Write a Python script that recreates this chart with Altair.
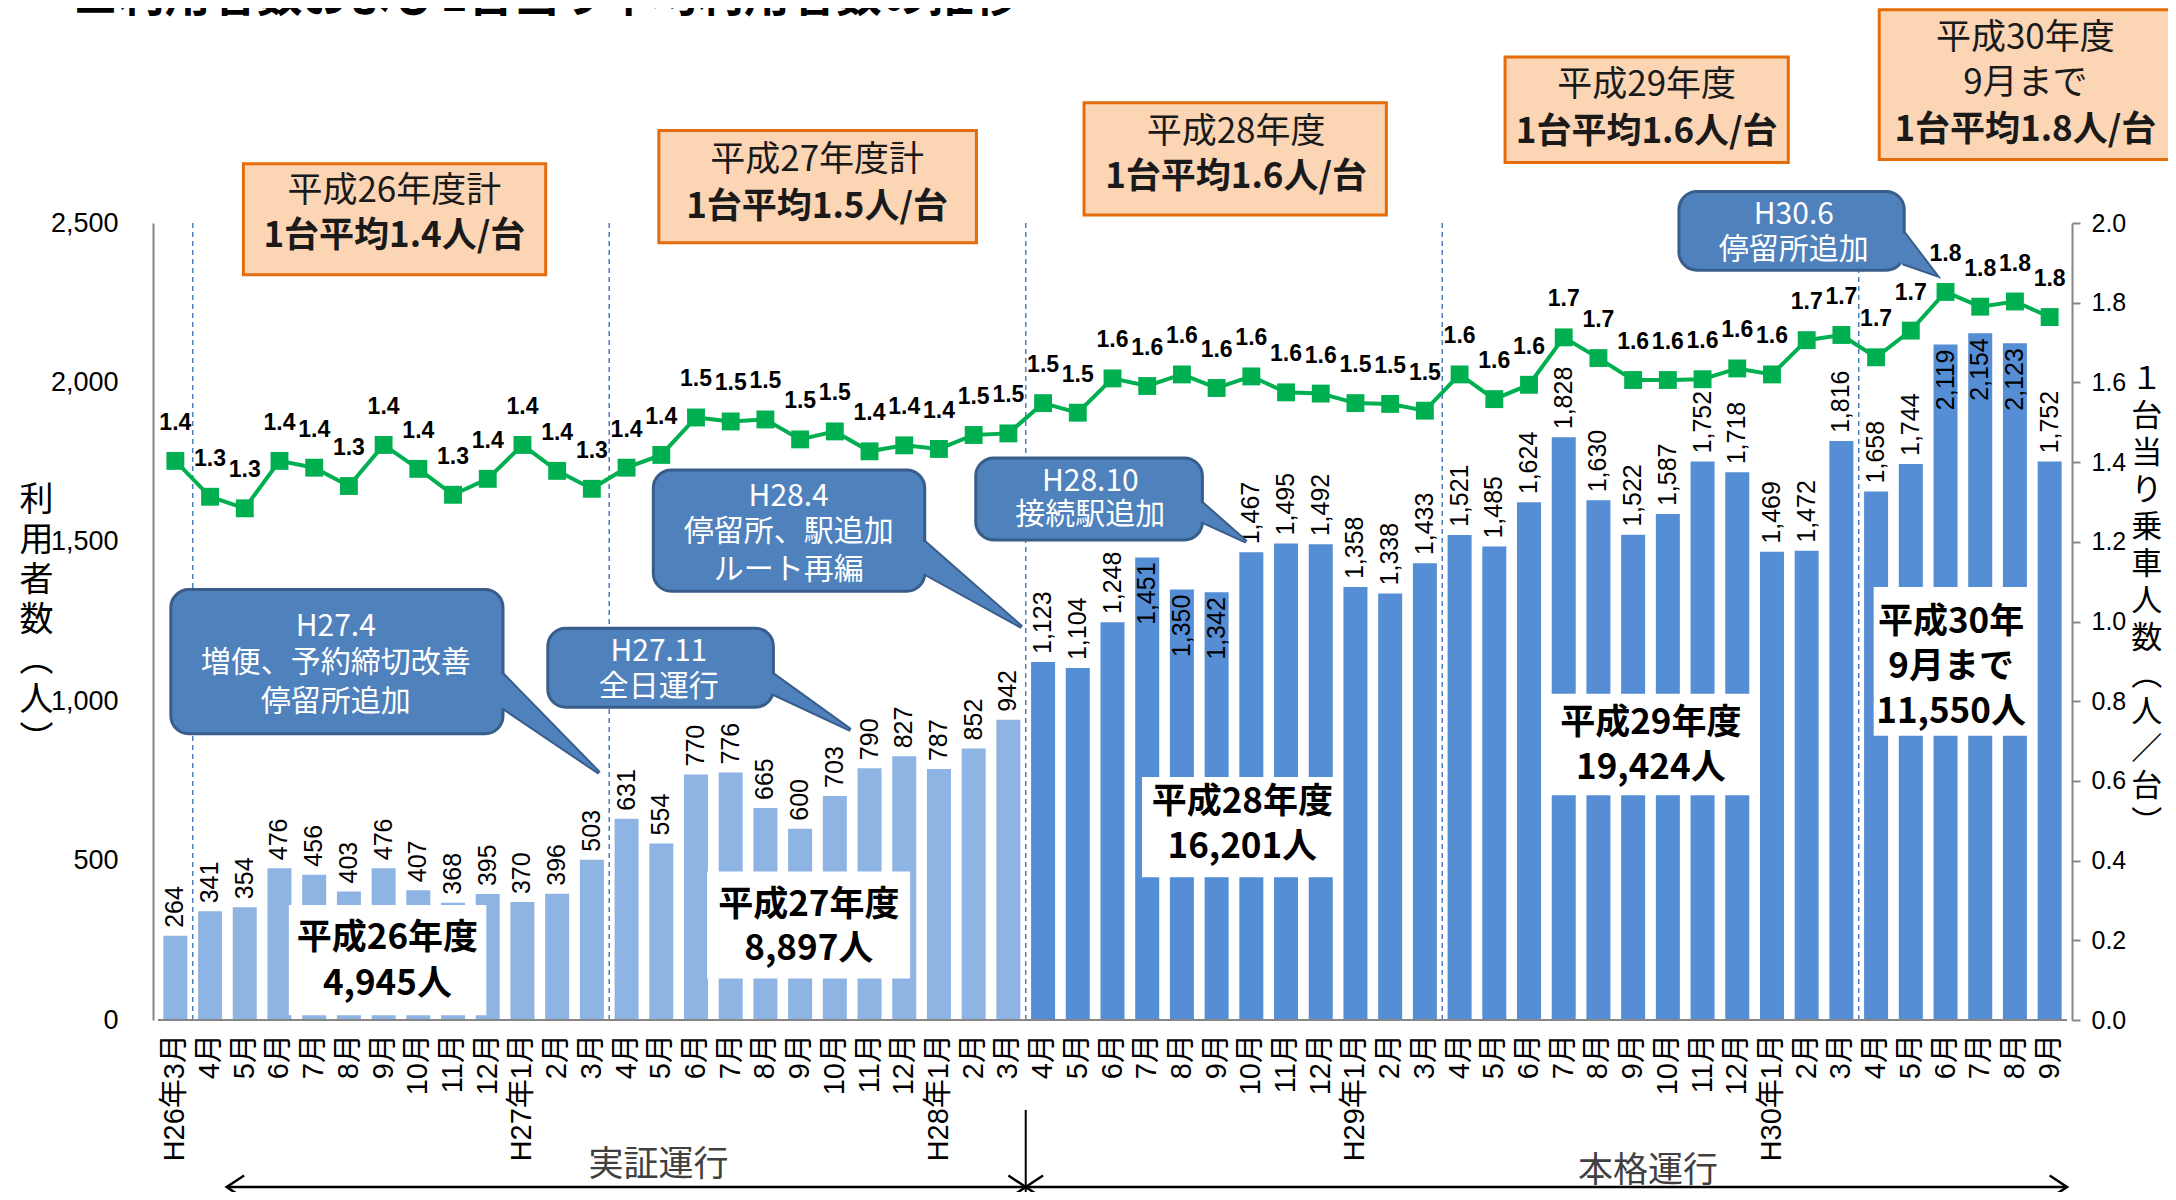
import altair as alt
import pandas as pd

# ---------------- data ----------------
month_labels = [
    "H26年3月",
    "4月", "5月", "6月", "7月", "8月", "9月", "10月", "11月", "12月", "H27年1月", "2月", "3月",
    "4月", "5月", "6月", "7月", "8月", "9月", "10月", "11月", "12月", "H28年1月", "2月", "3月",
    "4月", "5月", "6月", "7月", "8月", "9月", "10月", "11月", "12月", "H29年1月", "2月", "3月",
    "4月", "5月", "6月", "7月", "8月", "9月", "10月", "11月", "12月", "H30年1月", "2月", "3月",
    "4月", "5月", "6月", "7月", "8月", "9月",
]
users = [
    264,
    341, 354, 476, 456, 403, 476, 407, 368, 395, 370, 396, 503,
    631, 554, 770, 776, 665, 600, 703, 790, 827, 787, 852, 942,
    1123, 1104, 1248, 1451, 1350, 1342, 1467, 1495, 1492, 1358, 1338, 1433,
    1521, 1485, 1624, 1828, 1630, 1522, 1587, 1752, 1718, 1469, 1472, 1816,
    1658, 1744, 2119, 2154, 2123, 1752,
]
ratio = [
    1.403,
    1.313, 1.284, 1.403, 1.386, 1.340, 1.443, 1.383, 1.318, 1.358, 1.443, 1.378, 1.333,
    1.386, 1.418, 1.512, 1.502, 1.507, 1.457, 1.477, 1.427, 1.442, 1.433, 1.468, 1.472,
    1.548, 1.524, 1.610, 1.591, 1.620, 1.586, 1.615, 1.575, 1.572, 1.548, 1.546, 1.529,
    1.620, 1.558, 1.594, 1.713, 1.661, 1.606, 1.606, 1.608, 1.635, 1.620, 1.706, 1.719,
    1.663, 1.730, 1.827, 1.790, 1.803, 1.764,
]
ratio_labels = [
    "1.4",
    "1.3", "1.3", "1.4", "1.4", "1.3", "1.4", "1.4", "1.3", "1.4", "1.4", "1.4", "1.3",
    "1.4", "1.4", "1.5", "1.5", "1.5", "1.5", "1.5", "1.4", "1.4", "1.4", "1.5", "1.5",
    "1.5", "1.5", "1.6", "1.6", "1.6", "1.6", "1.6", "1.6", "1.6", "1.5", "1.5", "1.5",
    "1.6", "1.6", "1.6", "1.7", "1.7", "1.6", "1.6", "1.6", "1.6", "1.6", "1.7", "1.7",
    "1.7", "1.7", "1.8", "1.8", "1.8", "1.8",
]
labels_inside = [28, 29, 30, 51, 52, 53]      # month indices whose value label sits inside the bar
full_service_start = 25                        # H28年4月: start of 本格運行
fiscal_breaks = [0.5, 12.5, 24.5, 36.5, 48.5]  # boundaries between fiscal years
fy_avg = ["1.4", "1.5", "1.6", "1.6", "1.8"]

n = len(users)
tot26 = sum(users[1:13])
tot27 = sum(users[13:25])
tot28 = sum(users[25:37])
tot29 = sum(users[37:49])
tot30 = sum(users[49:55])

df = pd.DataFrame({
    "idx": list(range(n)),
    "label": month_labels,
    "users": users,
    "ratio": ratio,
    "rlabel": ratio_labels,
    "phase": ["実証運行" if i < full_service_start else "本格運行" for i in range(n)],
    "inside": [i in labels_inside for i in range(n)],
})

# ---------------- styles ----------------
NUM_FONT = "Liberation Sans, Arial, sans-serif"
NARROW = "Liberation Sans Narrow, Liberation Sans, sans-serif"
CJK = "Noto Sans CJK JP, sans-serif"
AX_FONT = "Liberation Sans, Noto Sans CJK JP, sans-serif"
GREEN = "#00B050"
LIGHT = "#8EB4E3"
DARK = "#558ED5"
AXIS_GRAY = "#868686"

XS = alt.Scale(domain=[-0.5, n - 0.5], nice=False, zero=False)
US = alt.Scale(domain=[0, 2500], nice=False, zero=False)
RS = alt.Scale(domain=[0, 2.0], nice=False, zero=False)


def xq(f):
    return alt.X(f, type="quantitative", scale=XS, axis=None)


def yq(f):
    return alt.Y(f, type="quantitative", scale=US, axis=None)


def text_layer(rows, **mk):
    d = pd.DataFrame(rows, columns=["x", "y", "t"])
    return alt.Chart(d).mark_text(**mk).encode(x=xq("x"), y=yq("y"), text="t:N")


def rect_layer(rows, **mk):
    d = pd.DataFrame(rows, columns=["x1", "x2", "y1", "y2"])
    return alt.Chart(d).mark_rect(**mk).encode(x=xq("x1"), x2="x2", y=yq("y1"), y2="y2")


left_axis = alt.Axis(
    values=[0, 500, 1000, 1500, 2000, 2500], format=",.0f", orient="left", ticks=False,
    tickSize=0, labelPadding=35, domainColor=AXIS_GRAY, domainWidth=2, grid=False,
    labelFont=NUM_FONT, labelFontSize=27, labelColor="#000000", title=None,
)
right_axis = alt.Axis(
    values=[round(i * 0.2, 1) for i in range(11)], format=".1f", orient="right",
    ticks=True, tickSize=8, tickColor=AXIS_GRAY, tickWidth=2, labelPadding=11,
    domainColor=AXIS_GRAY, domainWidth=2, grid=False, labelFont=NUM_FONT,
    labelFontSize=25, labelColor="#000000", title=None,
)

# ---------------- layers ----------------
bdf = pd.DataFrame({"b": fiscal_breaks, "lo": 0, "hi": 2500})
breaks = alt.Chart(bdf).mark_rule(color="#4A7EBB", strokeDash=[5, 4], strokeWidth=1.5).encode(
    x=xq("b"), y=yq("lo"), y2="hi")

bars = alt.Chart(df).mark_bar(size=24).encode(
    x=xq("idx"),
    y=alt.Y("users:Q", scale=US, axis=left_axis),
    color=alt.Color("phase:N", scale=alt.Scale(domain=["実証運行", "本格運行"], range=[LIGHT, DARK]),
                    legend=None),
)

# bottom axis line and month labels
base_line = alt.Chart(pd.DataFrame([dict(x1=-0.5, x2=n - 0.5, y=0)])).mark_rule(
    color=AXIS_GRAY, strokeWidth=2).encode(x=xq("x1"), x2="x2", y=yq("y"))
x_labels = alt.Chart(df).transform_calculate(ly="-44").mark_text(
    angle=270, align="right", baseline="middle", font=AX_FONT, fontSize=29, color="#000000"
).encode(x=xq("idx"), y=yq("ly"), text="label:N")

bar_lab_out = alt.Chart(df).transform_filter("!datum.inside").mark_text(
    angle=270, align="left", baseline="middle", dx=8, font=NUM_FONT, fontSize=25, color="#000000"
).encode(x=xq("idx"), y=yq("users"), text=alt.Text("users:Q", format=","))
bar_lab_in = alt.Chart(df).transform_filter("datum.inside").mark_text(
    angle=270, align="right", baseline="middle", dx=-5, font=NUM_FONT, fontSize=25, color="#000000"
).encode(x=xq("idx"), y=yq("users"), text=alt.Text("users:Q", format=","))

# white total boxes on the bars
white_boxes = rect_layer([
    (3.27, 8.96, 361, 15),
    (15.32, 21.17, 466, 130),
    (27.85, 33.62, 762, 448),
    (39.59, 45.43, 1023, 705),
    (48.93, 53.39, 1358, 892),
], color="white", opacity=1)
white_text = text_layer([
    (6.11, 257, "平成26年度"), (6.11, 113, f"{tot26:,}人"),
    (18.25, 361, "平成27年度"), (18.25, 222, f"{tot27:,}人"),
    (30.74, 683, "平成28年度"), (30.74, 544, f"{tot28:,}人"),
    (42.51, 932, "平成29年度"), (42.51, 792, f"{tot29:,}人"),
    (51.16, 1249, "平成30年"), (51.16, 1106, "9月まで"), (51.16, 966, f"{tot30:,}人"),
], font=CJK, fontSize=35, fontWeight="bold", color="#000000", baseline="middle")

# ratio line
line = alt.Chart(df).mark_line(color=GREEN, strokeWidth=4).encode(
    x=xq("idx"), y=alt.Y("ratio:Q", scale=RS, axis=right_axis))
pts = alt.Chart(df).mark_point(shape="square", filled=True, size=320, color=GREEN, opacity=1).encode(
    x=xq("idx"), y=alt.Y("ratio:Q", scale=RS, axis=None))
rlab = alt.Chart(df).mark_text(
    dy=-38, baseline="middle", font=NARROW, fontSize=23, fontWeight="bold", color="#000000"
).encode(x=xq("idx"), y=alt.Y("ratio:Q", scale=RS, axis=None), text="rlabel:N")

# orange fiscal-year boxes above the plot
orange_boxes = rect_layer([
    (1.96, 10.67, 2686, 2338),
    (13.93, 23.08, 2790, 2438),
    (26.18, 34.89, 2877, 2525),
    (38.31, 46.47, 3021, 2690),
    (49.09, 57.6, 3169, 2699),
], fill="#FCD5B5", stroke="#E46C0A", strokeWidth=3)
orange_text1 = text_layer([
    (6.31, 2599, "平成26年度計"),
    (18.49, 2698, "平成27年度計"),
    (30.56, 2786, "平成28年度"),
    (42.39, 2933, "平成29年度"),
    (53.3, 3079, "平成30年度"),
    (53.3, 2938, "9月まで"),
], font=CJK, fontSize=35, color="#1a1a1a", baseline="middle")
orange_text2 = text_layer([
    (6.31, 2459, f"1台平均{fy_avg[0]}人/台"),
    (18.49, 2551, f"1台平均{fy_avg[1]}人/台"),
    (30.56, 2645, f"1台平均{fy_avg[2]}人/台"),
    (42.39, 2786, f"1台平均{fy_avg[3]}人/台"),
    (53.3, 2791, f"1台平均{fy_avg[4]}人/台"),
], font=CJK, fontSize=35, fontWeight="bold", color="#1a1a1a", baseline="middle")

# blue callouts
callouts = [
    # box x1, x2, y1, y2, text x, [(y, text)], wedge (base x, base top, base bottom, tip x, tip y)
    (-0.13, 9.44, 1350, 898, 4.62, [(1232, "H27.4"), (1121, "増便、予約締切改善"), (997, "停留所追加")],
     (9.44, 1084, 979, 12.21, 775)),
    (10.73, 17.23, 1229, 981, 13.93, [(1153, "H27.11"), (1046, "全日運行")],
     (17.23, 1084, 1023, 19.45, 910)),
    (13.77, 21.59, 1725, 1345, 17.67, [(1642, "H28.4"), (1530, "停留所、駅追加"), (1412, "ルート再編")],
     (21.59, 1499, 1400, 24.38, 1233)),
    (23.06, 29.59, 1763, 1506, 26.36, [(1689, "H28.10"), (1584, "接続駅追加")],
     (29.59, 1621, 1563, 30.85, 1500)),
    (43.32, 49.81, 2599, 2352, 46.63, [(2525, "H30.6"), (2416, "停留所追加")],
     (49.81, 2468, 2372, 50.72, 2338)),
]
w_rows, w_fill_rows, c_rows, c_text = [], [], [], []
for cid, (x1, x2, y1, y2, tx, lines, (xb, yb1, yb2, xt, yt)) in enumerate(callouts):
    c_rows.append((x1, x2, y1, y2))
    for ty, t in lines:
        c_text.append((tx, ty, t))
    w_rows += [dict(cid=cid, x=xb, y=yb1, y2=yb2), dict(cid=cid, x=xt, y=yt, y2=yt)]
    w_fill_rows += [dict(cid=cid, x=xb - 0.12, y=yb1, y2=yb2), dict(cid=cid, x=xb, y=yb1, y2=yb2),
                    dict(cid=cid, x=xt, y=yt, y2=yt)]

wedge = alt.Chart(pd.DataFrame(w_rows)).mark_area(
    orient="vertical", fill="#4F81BD", stroke="#385D8A", strokeWidth=4, opacity=1
).encode(x=xq("x"), y=yq("y"), y2="y2", detail="cid:N")
callout_boxes = rect_layer(c_rows, fill="#4F81BD", stroke="#385D8A", strokeWidth=3, cornerRadius=18)
wedge_fill = alt.Chart(pd.DataFrame(w_fill_rows)).mark_area(
    orient="vertical", fill="#4F81BD", opacity=1
).encode(x=xq("x"), y=yq("y"), y2="y2", detail="cid:N")
callout_text = text_layer(c_text, font=CJK, fontSize=30, color="white", baseline="middle")

# axis titles (vertical writing)
left_title = text_layer([(-4.0, 1681, "\n".join(["利", "用", "者", "数", "︵", "人", "︶"]))],
                        font=CJK, fontSize=34, color="#000000", baseline="top", lineBreak="\n",
                        lineHeight=40)
right_title = text_layer([(56.8, 2055, "\n".join(
    ["１", "台", "当", "り", "乗", "車", "人", "数", "︵", "人", "／", "台", "︶"]))],
    font=CJK, fontSize=31, color="#000000", baseline="top", lineBreak="\n", lineHeight=37)

# page title (cut off at top edge, as in the original)
title = text_layer([(-2.96, 3165, "■利用者数および1台当り平均利用者数の推移")],
                   font=CJK, fontSize=46, fontWeight="bold", color="#000000", align="left",
                   baseline="alphabetic")

# phase arrows below the axis
ARROW_Y = -524
arrows = alt.Chart(pd.DataFrame([
    dict(x1=1.48, x2=24.5, y=ARROW_Y), dict(x1=24.5, x2=54.5, y=ARROW_Y)
])).mark_rule(color="#000000", strokeWidth=2.5).encode(x=xq("x1"), x2="x2", y=yq("y"))
sep = alt.Chart(pd.DataFrame([dict(x=24.5, y1=-282, y2=-600)])).mark_rule(
    color="#000000", strokeWidth=2).encode(x=xq("x"), y=yq("y1"), y2="y2")
chev_rows = []
for cid, (x0, d) in enumerate([(1.48, 1), (24.5, -1), (24.5, 1), (54.5, -1)]):
    chev_rows += [dict(cid=cid, o=0, x=x0 + d * 0.5, y=ARROW_Y + 36),
                  dict(cid=cid, o=1, x=x0, y=ARROW_Y),
                  dict(cid=cid, o=2, x=x0 + d * 0.5, y=ARROW_Y - 36)]
chevrons = alt.Chart(pd.DataFrame(chev_rows)).mark_line(color="#000000", strokeWidth=2.5).encode(
    x=xq("x"), y=yq("y"), detail="cid:N", order="o:Q")
phase_text = text_layer([(13.92, -455, "実証運行"), (42.43, -473, "本格運行")],
                        font=CJK, fontSize=35, color="#404040", baseline="middle")

chart = alt.layer(
    bars, breaks, base_line, x_labels, white_boxes, white_text, bar_lab_out, bar_lab_in,
    line, pts, rlab,
    orange_boxes, orange_text1, orange_text2,
    wedge, callout_boxes, wedge_fill, callout_text,
    left_title, right_title, title,
    arrows, sep, chevrons, phase_text,
).resolve_scale(y="independent").properties(
    width=1919, height=797,
    padding={"left": 145, "top": 215, "right": 96, "bottom": 172},
    autosize=alt.AutoSizeParams(type="none"),
    background="white",
).configure_view(stroke=None)

chart.save("out.html", embed_options={"renderer": "svg", "actions": False})
